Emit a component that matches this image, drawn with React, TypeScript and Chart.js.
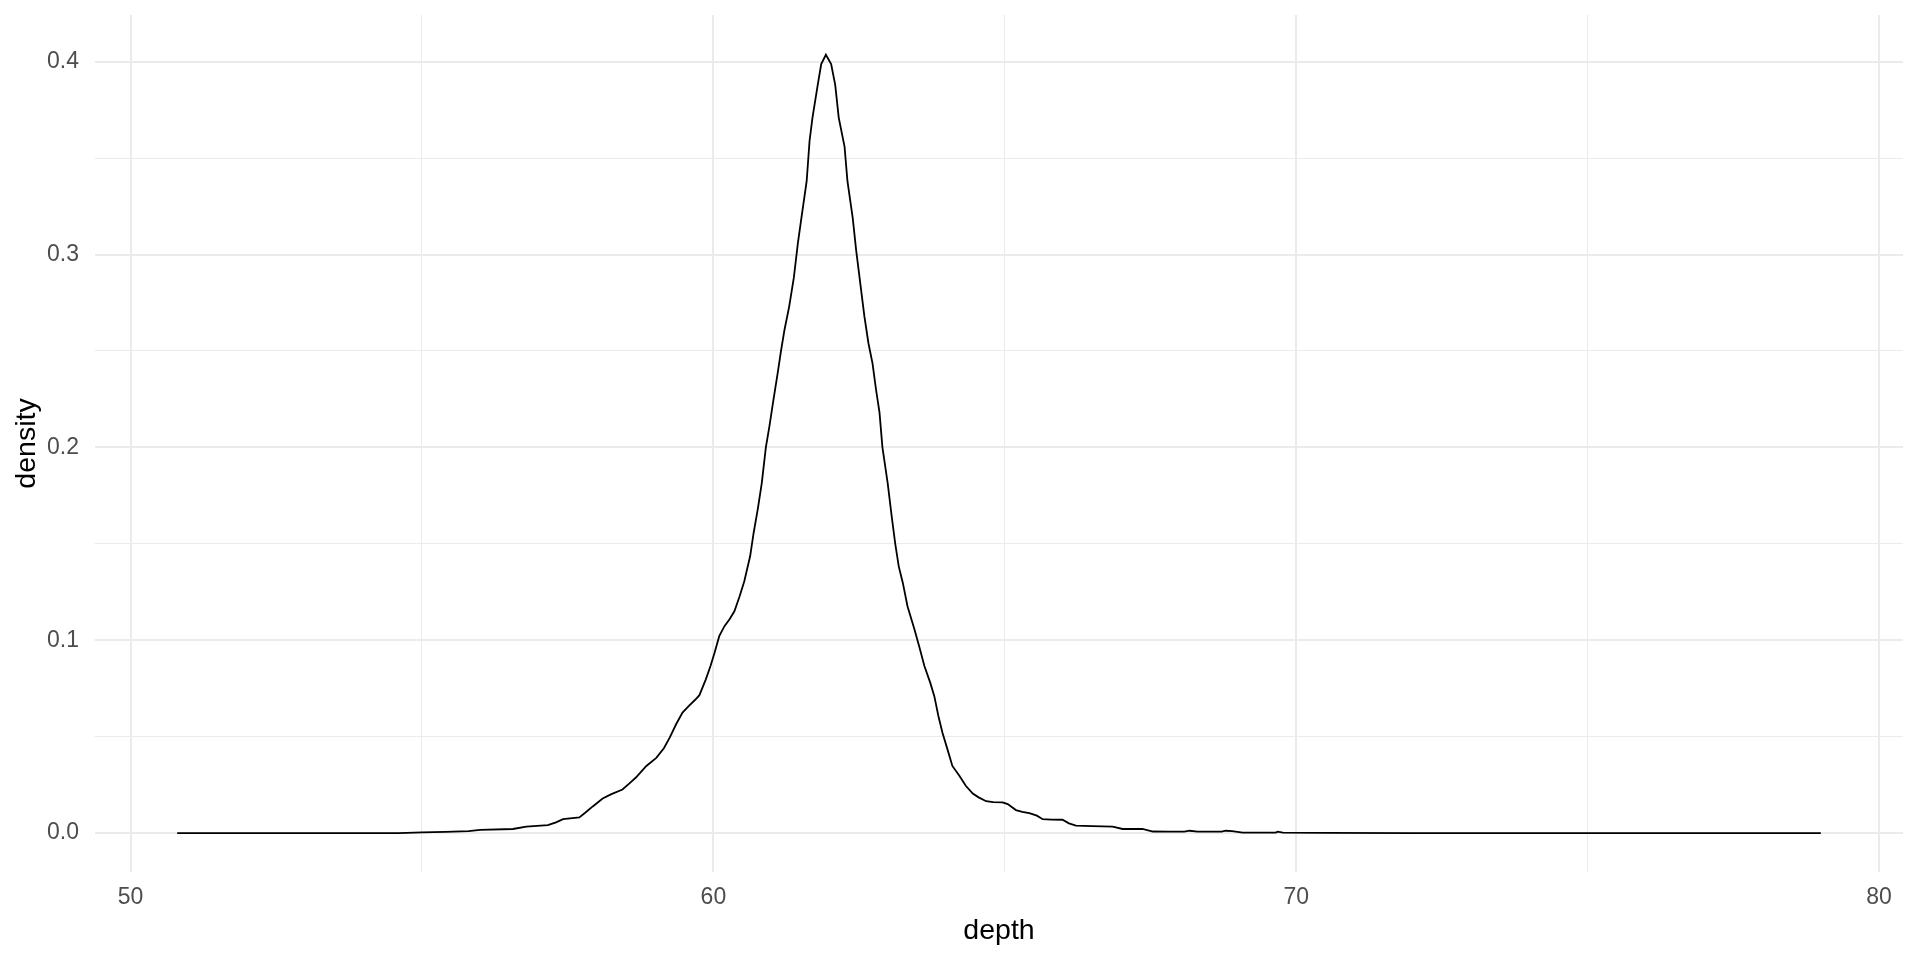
import React, { useEffect, useRef } from "react";
import { Chart, registerables } from "chart.js";

Chart.register(...registerables);

const depth: number[] = [
  50.8, 52.0, 53.0, 54.0, 54.6, 55.0, 55.4, 55.8, 56.0, 56.56, 56.79, 57.16, 57.3, 57.42, 57.7, 57.8,
  57.93, 58.1, 58.25, 58.44, 58.55, 58.67, 58.85, 59.02, 59.15, 59.25, 59.36, 59.47, 59.58, 59.7,
  59.76, 59.87, 59.95, 60.02, 60.1, 60.19, 60.28, 60.36, 60.45, 60.53, 60.63, 60.69, 60.76, 60.83,
  60.9, 60.96, 61.03, 61.1, 61.16, 61.22, 61.3, 61.38, 61.45, 61.51, 61.6, 61.65, 61.7, 61.79, 61.85,
  61.93, 62.02, 62.09, 62.15, 62.25, 62.3, 62.39, 62.45, 62.52, 62.59, 62.66, 62.73, 62.79, 62.85,
  62.9, 62.99, 63.06, 63.12, 63.18, 63.25, 63.33, 63.45, 63.53, 63.62, 63.72, 63.79, 63.86, 63.93,
  64.02, 64.1, 64.22, 64.33, 64.45, 64.55, 64.68, 64.8, 64.96, 65.05, 65.19, 65.3, 65.42, 65.55,
  65.65, 65.8, 65.99, 66.1, 66.22, 66.5, 66.85, 67.02, 67.36, 67.54, 67.8, 68.08, 68.17, 68.31,
  68.72, 68.79, 68.9, 69.08, 69.65, 69.68, 69.77, 70.5, 72.0, 74.0, 76.0, 78.0, 79.0,
];

const density: number[] = [
  0, 0, 0, 0, 0, 0.0003, 0.0006, 0.001, 0.0016, 0.0021, 0.0033, 0.0041, 0.0055, 0.0072, 0.0081, 0.0105,
  0.0138, 0.0179, 0.0202, 0.0226, 0.0255, 0.0288, 0.0348, 0.039, 0.044, 0.0495, 0.0564, 0.0625, 0.066, 0.0695,
  0.0715, 0.0797, 0.0866, 0.0935, 0.1021, 0.1073, 0.111, 0.115, 0.1228, 0.1306, 0.1435, 0.1556, 0.1677, 0.1815,
  0.2, 0.2108, 0.2246, 0.238, 0.25, 0.261, 0.273, 0.288, 0.306, 0.319, 0.338, 0.359, 0.371, 0.388, 0.3988,
  0.4036, 0.3988, 0.388, 0.371, 0.356, 0.338, 0.319, 0.302, 0.285, 0.268, 0.254, 0.2436, 0.23, 0.218,
  0.2, 0.1815, 0.164, 0.15, 0.1383, 0.1297, 0.1176, 0.1056, 0.0969, 0.0866, 0.078, 0.071, 0.0607, 0.052,
  0.043, 0.0348, 0.0297, 0.0245, 0.0205, 0.0185, 0.0165, 0.016, 0.0159, 0.015, 0.0119, 0.011, 0.0103, 0.009,
  0.0072, 0.007, 0.0069, 0.005, 0.0038, 0.0036, 0.0033, 0.0021, 0.0021, 0.0008, 0.0007, 0.0007, 0.0012, 0.0007,
  0.0007, 0.0012, 0.001, 0.0002, 0.0002, 0.0007, 0.0002, 0.0001, 0, 0, 0, 0, 0,
];

const xTicks: number[] = [50, 55, 60, 65, 70, 75, 80];
const xMajorTicks: number[] = [50, 60, 70, 80];
const yTicks: number[] = [0, 0.05, 0.1, 0.15, 0.2, 0.25, 0.3, 0.35, 0.4];
const yMajorTicks: number[] = [0, 0.1, 0.2, 0.3, 0.4];

const isIn = (list: number[], v: number) => list.some((m) => Math.abs(m - v) < 1e-9);

export default function App() {
  const ref = useRef<HTMLCanvasElement>(null);

  useEffect(() => {
    if (!ref.current) return;
    const tickFont = { family: "'Liberation Sans', Arial, sans-serif", size: 23 };
    const titleFont = { family: "'Liberation Sans', Arial, sans-serif", size: 28.5 };
    const chart = new Chart(ref.current, {
      type: "line",
      data: {
        datasets: [
          {
            data: depth.map((x, i) => ({ x, y: density[i] })),
            borderColor: "#000000",
            borderWidth: 1.8,
            pointRadius: 0,
            tension: 0,
            fill: false,
          },
        ],
      },
      options: {
        responsive: false,
        animation: false,
        devicePixelRatio: 1,
        layout: { padding: { top: 15, right: 17, bottom: 0, left: 0 } },
        plugins: { legend: { display: false }, tooltip: { enabled: false } },
        scales: {
          x: {
            type: "linear",
            min: 49.39,
            max: 80.41,
            afterBuildTicks: (s: any) => {
              s.ticks = xTicks.map((v) => ({ value: v }));
            },
            afterFit: (s: any) => {
              s.height = 88;
              s.paddingLeft = 0;
              s.paddingRight = 0;
            },
            ticks: {
              autoSkip: false,
              maxRotation: 0,
              padding: 12,
              color: "#4D4D4D",
              font: tickFont,
              callback: (v: any) => (isIn(xMajorTicks, Number(v)) ? String(v) : ""),
            },
            grid: {
              drawTicks: false,
              color: "#EBEBEB",
              lineWidth: (ctx: any) => (isIn(xMajorTicks, ctx.tick?.value) ? 2 : 1),
            },
            border: { display: false },
            title: {
              display: true,
              text: "depth",
              color: "#000000",
              font: titleFont,
              padding: { top: 0, bottom: 12 },
            },
          },
          y: {
            type: "linear",
            min: -0.0202,
            max: 0.4242,
            afterBuildTicks: (s: any) => {
              s.ticks = yTicks.map((v) => ({ value: v }));
            },
            afterFit: (s: any) => {
              s.width = 95;
              s.paddingTop = 0;
              s.paddingBottom = 0;
            },
            ticks: {
              autoSkip: false,
              padding: 16,
              color: "#4D4D4D",
              font: tickFont,
              callback: (v: any) => (isIn(yMajorTicks, Number(v)) ? Number(v).toFixed(1) : ""),
            },
            grid: {
              drawTicks: false,
              color: "#EBEBEB",
              lineWidth: (ctx: any) => (isIn(yMajorTicks, ctx.tick?.value) ? 2 : 1),
            },
            border: { display: false },
            title: {
              display: true,
              text: "density",
              color: "#000000",
              font: titleFont,
              padding: { top: 10, bottom: 0 },
            },
          },
        },
      },
    } as any);
    return () => chart.destroy();
  }, []);

  return (
    <div style={{ position: "fixed", left: 0, top: 0, width: 1920, height: 960, background: "#ffffff" }}>
      <canvas ref={ref} width={1920} height={960} style={{ display: "block" }} />
    </div>
  );
}
